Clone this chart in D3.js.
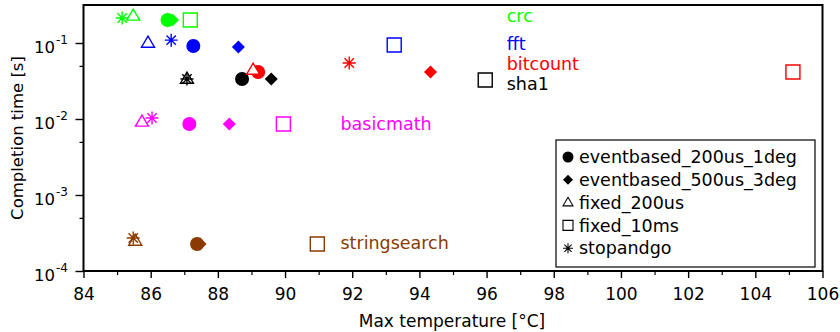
<!DOCTYPE html>
<html>
<head>
<meta charset="utf-8">
<script src="https://cdn.jsdelivr.net/npm/d3@7"></script>
<style>
  html, body { margin: 0; padding: 0; background: #fff; }
  svg { display: block; font-family: "DejaVu Sans", sans-serif; }
</style>
</head>
<body>
<svg id="chart" width="840" height="332"></svg>
<script>
// Benchmarks and the colour each one is drawn in
const benchmarks = ["crc", "fft", "bitcount", "sha1", "basicmath", "stringsearch"];
const benchColors = ["#00ff00", "#0000ff", "#ff0000", "#000000", "#ff00ff", "#8b3a00"];

// Thermal management policies (legend order) and their marker shapes
const policies = ["eventbased_200us_1deg", "eventbased_500us_3deg", "fixed_200us", "fixed_10ms", "stopandgo"];
const policyShapes = ["circle", "diamond", "triangle", "square", "asterisk"];

// Max temperature [°C] per benchmark, one array per policy
const tempEvent200 = [86.5, 87.27, 89.2, 88.72, 87.15, 87.38];
const tempEvent500 = [86.65, 88.61, 94.33, 89.59, 88.34, 87.47];
const tempFixed200 = [85.48, 85.92, 89.05, 87.08, 85.74, 85.54];
const tempFixed10 = [87.18, 93.25, 105.12, 95.96, 89.95, 90.96];
const tempStopGo = [85.15, 86.61, 91.91, 87.08, 86.04, 85.48];

// Completion time [s] per benchmark, one array per policy
const timeEvent200 = [0.201, 0.0913, 0.0415, 0.0336, 0.0086, 0.000227];
const timeEvent500 = [0.201, 0.0886, 0.0415, 0.0336, 0.0086, 0.000227];
const timeFixed200 = [0.227, 0.100, 0.0441, 0.0336, 0.00914, 0.000248];
const timeFixed10 = [0.201, 0.094, 0.0415, 0.0326, 0.0086, 0.000227];
const timeStopGo = [0.213, 0.109, 0.0546, 0.0336, 0.0103, 0.000272];

// Axis ticks
const xTicks = [84, 86, 88, 90, 92, 94, 96, 98, 100, 102, 104, 106];
const xMinorTicks = [85, 87, 89, 91, 93, 95, 97, 99, 101, 103, 105];
const yTickExponents = [-4, -3, -2, -1];
const yMinorTicks = [5e-4, 5e-3, 5e-2];

// Benchmark name labels placed in the plot: [x in °C, y in s]
const labelPos = [[96.6, 0.227], [96.6, 0.097], [96.6, 0.0535], [96.6, 0.029], [91.65, 0.0086], [91.65, 0.000233]];

const temps = [tempEvent200, tempEvent500, tempFixed200, tempFixed10, tempStopGo];
const times = [timeEvent200, timeEvent500, timeFixed200, timeFixed10, timeStopGo];

const svg = d3.select("#chart");
const plotL = 83.5, plotR = 822.5, plotT = 5, plotB = 271;

const x = d3.scaleLinear().domain([84, 106]).range([plotL, plotR]);
const y = d3.scaleLog().domain([1e-4, Math.pow(10, -0.5)]).range([plotB, plotT]);

// Marker path generator, centred on the origin
function markerPath(shape, s) {
  switch (shape) {
    case "circle": return d3.symbol(d3.symbolCircle, Math.PI * s * s)();
    case "diamond": return `M0,${-s}L${s},0L0,${s}L${-s},0Z`;
    case "triangle": {
      const h = s * 1.7;
      return `M0,${-h * 0.62}L${s},${h * 0.38}L${-s},${h * 0.38}Z`;
    }
    case "square": return `M${-s},${-s}H${s}V${s}H${-s}Z`;
    case "asterisk": {
      const d = s * 0.72;
      return `M${-s},0H${s}M0,${-s}V${s}M${-d},${-d}L${d},${d}M${-d},${d}L${d},${-d}`;
    }
  }
}

function styleMarker(sel, shape, color) {
  if (shape === "circle" || shape === "diamond") {
    sel.attr("fill", color).attr("stroke", "none");
  } else if (shape === "triangle") {
    sel.attr("fill", "#fff").attr("stroke", color).attr("stroke-width", 1.4);
  } else {
    sel.attr("fill", "none").attr("stroke", color).attr("stroke-width", 1.4);
  }
}

const markerSize = { circle: 7, diamond: 6.5, triangle: 6.5, square: 7, asterisk: 6.5 };

// Points: diamonds go under circles, outline markers on top
const drawOrder = [1, 0, 2, 3, 4];
const pts = svg.append("g");
drawOrder.forEach(p => {
  const shape = policyShapes[p];
  benchmarks.forEach((b, i) => {
    const m = pts.append("path")
      .attr("d", markerPath(shape, markerSize[shape]))
      .attr("transform", `translate(${x(temps[p][i])},${y(times[p][i])})`);
    styleMarker(m, shape, benchColors[i]);
  });
});

// Benchmark labels
benchmarks.forEach((b, i) => {
  svg.append("text")
    .attr("x", x(labelPos[i][0]))
    .attr("y", y(labelPos[i][1]))
    .attr("dy", "0.35em")
    .attr("font-size", 17.5)
    .attr("fill", benchColors[i])
    .text(b);
});

// Frame
svg.append("rect")
  .attr("x", plotL).attr("y", plotT)
  .attr("width", plotR - plotL).attr("height", plotB - plotT)
  .attr("fill", "none").attr("stroke", "#000").attr("stroke-width", 2);

// X axis
const xAxis = svg.append("g").attr("transform", `translate(0,${plotB})`);
xAxis.call(d3.axisBottom(x).tickValues(xTicks).tickSize(7).tickFormat(d3.format("d")))
  .call(g => g.select(".domain").remove())
  .call(g => g.selectAll(".tick line").attr("stroke-width", 1.4))
  .call(g => g.selectAll(".tick text").attr("font-size", 17).attr("font-family", "DejaVu Sans").attr("fill", "#000").attr("dy", "1.1em"));
xAxis.append("g")
  .call(d3.axisBottom(x).tickValues(xMinorTicks).tickSize(4).tickFormat(""))
  .call(g => g.select(".domain").remove())
  .call(g => g.selectAll(".tick line").attr("stroke-width", 1.2));

// Y axis
const yAxis = svg.append("g").attr("transform", `translate(${plotL},0)`);
yAxis.call(d3.axisLeft(y).tickValues(yTickExponents.map(e => Math.pow(10, e))).tickSize(8).tickFormat(""))
  .call(g => g.select(".domain").remove())
  .call(g => g.selectAll(".tick line").attr("stroke-width", 1.4));
yAxis.append("g")
  .call(d3.axisLeft(y).tickValues(yMinorTicks).tickSize(4).tickFormat(""))
  .call(g => g.select(".domain").remove())
  .call(g => g.selectAll(".tick line").attr("stroke-width", 1.2));

// Y tick labels as 10 with a raised exponent
yTickExponents.forEach(e => {
  const ty = y(Math.pow(10, e));
  const t = svg.append("text")
    .attr("x", 34).attr("y", ty + 10)
    .attr("font-size", 16.5).attr("fill", "#000");
  t.append("tspan").text("10");
  t.append("tspan").attr("dy", -9).attr("dx", 1).attr("font-size", 12).text(String(e));
});

// Axis titles
svg.append("text")
  .attr("x", 452).attr("y", 327)
  .attr("text-anchor", "middle").attr("font-size", 17).attr("fill", "#000")
  .text("Max temperature [°C]");
svg.append("text")
  .attr("transform", `translate(23,${(plotT + plotB) / 2}) rotate(-90)`)
  .attr("text-anchor", "middle").attr("font-size", 16.5).attr("fill", "#000")
  .text("Completion time [s]");

// Legend
const lg = svg.append("g");
lg.append("rect")
  .attr("x", 556).attr("y", 140).attr("width", 259).attr("height", 127)
  .attr("fill", "#fff").attr("stroke", "#000").attr("stroke-width", 1.2);
policies.forEach((p, i) => {
  const cy = 157 + i * 22.8;
  const shape = policyShapes[i];
  const m = lg.append("path")
    .attr("d", markerPath(shape, shape === "circle" ? 5.5 : 5))
    .attr("transform", `translate(568,${cy})`);
  styleMarker(m, shape, "#000");
  if (shape !== "circle" && shape !== "diamond") m.attr("stroke-width", 1.1);
  lg.append("text")
    .attr("x", 579).attr("y", cy).attr("dy", "0.35em")
    .attr("font-size", 17.5).attr("fill", "#000")
    .text(p);
});
</script>
</body>
</html>
